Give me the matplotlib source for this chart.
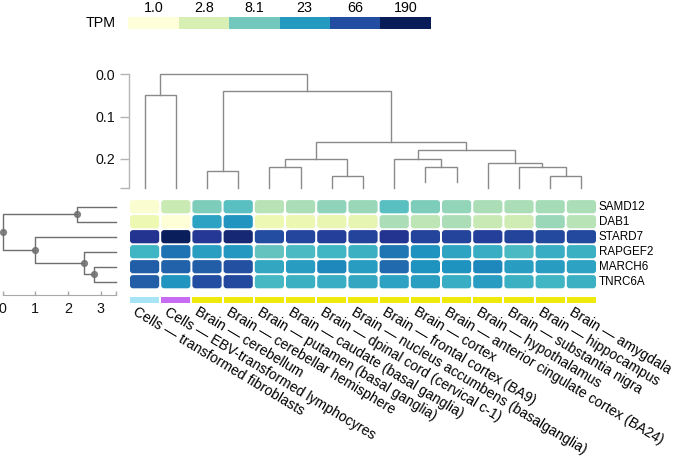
import numpy as np
import matplotlib
matplotlib.use("Agg")
import matplotlib.pyplot as plt
from matplotlib.colors import LogNorm
from matplotlib.patches import FancyBboxPatch, Rectangle

plt.rcParams['font.family'] = ['Liberation Sans', 'DejaVu Sans']

# ---------------- data ----------------
samples = [
    "Cells \u2014 transformed fibroblasts",
    "Cells \u2014 EBV-transformed lymphocyres",
    "Brain \u2014 cerebellum",
    "Brain \u2014 cerebellar hemisphere",
    "Brain \u2014 putamen (basal ganglia)",
    "Brain \u2014 caudate (basal ganglia)",
    "Brain \u2014 dpinal cord (cervical c-1)",
    "Brain \u2014 nucleus accumbens (basalganglia)",
    "Brain \u2014 frontal cortex (BA9)",
    "Brain \u2014 cortex",
    "Brain \u2014 anterior cingulate cortex (BA24)",
    "Brain \u2014 hypothalamus",
    "Brain \u2014 substantia nigra",
    "Brain \u2014 hippocampus",
    "Brain \u2014 amygdala",
]
genes = ["SAMD12", "DAB1", "STARD7", "RAPGEF2", "MARCH6", "TNRC6A"]

tpm_samd12 = [1.2, 3.5, 7.3, 10.6, 4.3, 4.8, 6.3, 5.6, 10.6, 7.3, 6.0, 4.8, 4.8, 5.1, 4.8]
tpm_dab1 = [1.9, 1.05, 19.9, 24.6, 1.9, 2.0, 2.1, 2.2, 4.8, 4.1, 4.8, 3.7, 3.3, 5.6, 4.3]
tpm_stard7 = [101, 180, 91, 139, 66, 74, 82, 78, 101, 78, 78, 82, 78, 70, 70]
tpm_rapgef2 = [13.8, 39, 21, 23.3, 9.5, 12.4, 13.8, 15.3, 37, 25.8, 18.9, 16.2, 12.4, 16.2, 15.3]
tpm_march6 = [51, 48.5, 51, 63, 17.9, 22, 30, 22, 43.7, 25.8, 25.8, 30, 22, 22, 19.9]
tpm_tnrc6a = [51, 24.6, 66, 70, 13.1, 15.3, 16.2, 17.9, 19.9, 21, 16.2, 22, 15.3, 13.8, 15.3]

tissue = ["fibroblast", "lymphocyte"] + ["brain"] * 13
tissue_colors = {"fibroblast": "#A7E4F5", "lymphocyte": "#C76CF2", "brain": "#EEEA0C"}

legend_values = [1.0, 2.8, 8.1, 23, 66, 190]
legend_labels = ["1.0", "2.8", "8.1", "23", "66", "190"]

# column dendrogram: (child_a, child_b, depth); leaves 0..14, new nodes 15..
col_merges = [
    (0, 1, 0.0486), (2, 3, 0.2297), (4, 5, 0.219), (6, 7, 0.240),
    (17, 18, 0.200), (9, 10, 0.219), (8, 20, 0.200), (13, 14, 0.240),
    (12, 22, 0.219), (11, 23, 0.2098), (21, 24, 0.1794), (19, 25, 0.1595),
    (16, 26, 0.0399), (15, 27, 0.0),
]
col_leaf_depth = [0.268] * 9 + [0.255, 0.255] + [0.268] * 4
col_ticks = [0.0, 0.1, 0.2]

# row dendrogram: leaves 0..5, nodes 6..
row_merges = [(0, 1, 2.28), (4, 5, 2.80), (3, 7, 2.49), (2, 8, 1.0), (6, 9, 0.0)]
row_leaf_x = 3.47
row_ticks = [0, 1, 2, 3]

# ---------------- layout ----------------
W, H = 678, 459
fig = plt.figure(figsize=(W / 100, H / 100), dpi=100)

def rect(l, t, r, b):
    return [l / W, 1 - b / H, (r - l) / W, (b - t) / H]

cmap = plt.get_cmap("YlGnBu")
norm = LogNorm(vmin=1, vmax=190)

X0, X1 = 129.0, 597.0
Y0, Y1 = 199.2, 289.2

# heatmap
mat = np.array([tpm_samd12, tpm_dab1, tpm_stard7, tpm_rapgef2, tpm_march6, tpm_tnrc6a])
ax = fig.add_axes(rect(X0, Y0, X1, Y1))
ax.set_xlim(0, len(samples))
ax.set_ylim(len(genes), 0)
ax.axis("off")
px_x = (X1 - X0) / len(samples)
px_y = (Y1 - Y0) / len(genes)
gw, gh = 1 - 2.0 / px_x, 1 - 1.8 / px_y
r = 3.0 / px_x
asp = (3.0 / px_y) / r
for i in range(len(genes)):
    for j in range(len(samples)):
        ax.add_patch(FancyBboxPatch((j + (1 - gw) / 2, i + (1 - gh) / 2), gw, gh,
                                    boxstyle=f"round,pad=0,rounding_size={r}",
                                    mutation_aspect=asp, linewidth=0,
                                    facecolor=cmap(norm(mat[i, j]))))
for i, g in enumerate(genes):
    ax.text(len(samples) + 0.05, i + 0.5, g, ha="left", va="center", fontsize=8.4)

# annotation bar
axb = fig.add_axes(rect(X0, 296.7, X1, 303.3))
axb.set_xlim(0, len(samples))
axb.set_ylim(0, 1)
axb.axis("off")
for j, t in enumerate(tissue):
    axb.add_patch(Rectangle((j + (1 - gw) / 2, 0), gw, 1, linewidth=0,
                            facecolor=tissue_colors[t]))
for j, s in enumerate(samples):
    axb.annotate(s, xy=(j + 0.5, 0), xycoords=("data", "axes fraction"),
                 xytext=(-5.0, -1.2), textcoords="offset points",
                 ha="left", va="top", rotation=-31, rotation_mode="anchor",
                 fontsize=10.1, annotation_clip=False)

# column dendrogram
axt = fig.add_axes(rect(X0, 74.3, X1, 187.7))
axt.set_xlim(0, len(samples))
axt.set_ylim(0.268, 0.0)
pos = {k: (k + 0.5, col_leaf_depth[k]) for k in range(len(samples))}
lc = "#8A8A8A"
for n, (a, b, d) in enumerate(col_merges):
    xa, ya = pos[a]
    xb, yb = pos[b]
    axt.plot([xa, xa, xb, xb], [ya, d, d, yb], color=lc, lw=1.0,
             solid_joinstyle="miter", clip_on=False)
    pos[len(samples) + n] = ((xa + xb) / 2, d)
for s in ["top", "right", "bottom"]:
    axt.spines[s].set_visible(False)
axt.spines["left"].set_color("#B5B5B5")
axt.spines["left"].set_linewidth(1.0)
axt.set_xticks([])
axt.set_yticks(col_ticks + [0.268])
axt.set_yticklabels([f"{v:.1f}" for v in col_ticks] + [""])
axt.tick_params(axis="y", direction="out", length=6.2, width=1.0, color="#B5B5B5",
                pad=4.0, labelsize=10.3, labelcolor="#111111")
axt.patch.set_alpha(0)

# row dendrogram
axl = fig.add_axes(rect(2.7, Y0, 116.0, Y1))
axl.set_xlim(0, row_leaf_x)
axl.set_ylim(len(genes), 0)
rpos = {k: (row_leaf_x, k + 0.5) for k in range(len(genes))}
dc = "#6E6E6E"
nodes = []
for n, (a, b, d) in enumerate(row_merges):
    xa, ya = rpos[a]
    xb, yb = rpos[b]
    axl.plot([xa, d, d, xb], [ya, ya, yb, yb], color=dc, lw=1.0, clip_on=False)
    rpos[len(genes) + n] = (d, (ya + yb) / 2)
    nodes.append(rpos[len(genes) + n])
axl.plot([p[0] for p in nodes], [p[1] for p in nodes], "o", color=dc, ms=4.2,
         alpha=0.8, clip_on=False)
for s in ["top", "right", "left"]:
    axl.spines[s].set_visible(False)
axl.spines["bottom"].set_position(("outward", 4.2))
axl.spines["bottom"].set_bounds(0, row_leaf_x)
axl.spines["bottom"].set_color("#A8A8A8")
axl.set_yticks([])
axl.set_xticks(row_ticks + [row_leaf_x])
axl.set_xticklabels([str(v) for v in row_ticks] + [""])
axl.tick_params(axis="x", direction="in", length=3.0, width=1.0, color="#A8A8A8",
                pad=5.0, labelsize=10.3, labelcolor="#111111")
axl.patch.set_alpha(0)

# colour legend
axk = fig.add_axes(rect(128.3, 17.3, 430.7, 29.0))
for k, v in enumerate(legend_values):
    axk.add_patch(Rectangle((k, 0), 1, 1, linewidth=0, facecolor=cmap(norm(v))))
axk.set_xlim(0, len(legend_values))
axk.set_ylim(0, 1)
for s in axk.spines.values():
    s.set_visible(False)
axk.set_yticks([])
axk.xaxis.tick_top()
axk.set_xticks(np.arange(len(legend_values)) + 0.5)
axk.set_xticklabels(legend_labels)
axk.tick_params(axis="x", length=0, pad=2.0, labelsize=10.3)
axk.text(-0.043, 0.5, "TPM", transform=axk.transAxes, ha="right", va="center",
         fontsize=10.3)

fig.savefig("out.png", dpi=100)
